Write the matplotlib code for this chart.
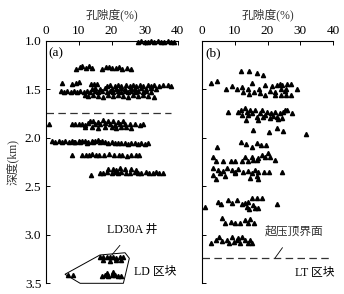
import matplotlib
matplotlib.use("Agg")
import matplotlib.pyplot as plt
from matplotlib.patches import Polygon

plt.rcParams["font.family"] = ["Liberation Serif", "Noto Sans CJK SC"]
plt.rcParams["axes.unicode_minus"] = False

# ---- panel (a): LD block, porosity (%) vs depth (km) ----
a_por = [
    # ~1.0 km
    28, 29, 30, 31, 32, 33, 34, 35, 36, 37, 38, 39,
    # ~1.28 km
    9.3, 10.5, 11.2, 12.2, 13.2, 14.2, 17.2, 18.2, 19.2, 20.2, 21.3, 22.3, 23.3, 24.6, 26,
    # ~1.43 km isolated
    5.1, 8.1, 9.2, 10.2, 13.7, 14.7, 15.7,
    # ~1.46 km
    18.5, 19.5, 21, 22, 23, 24.5, 25.5, 26.5, 27.5, 28.5, 29.5, 31, 32, 33, 34.5, 35.5, 37, 38,
    # ~1.49 km
    14, 15, 16.5, 18, 20, 21.5, 23, 24, 26, 27, 29, 30.5, 32, 33.5,
    # ~1.52 km
    4.6, 5.6, 6.6, 7.6, 8.6, 9.6, 10.6, 11.6, 12.6, 13.6, 15, 16, 17, 18.5, 19.5, 20.5,
    22, 23, 24, 25, 26, 27, 28, 29.5, 30.5, 32,
    # ~1.56 km
    12, 13, 14.5, 16, 17.5, 19, 20.5, 22, 23.5, 25, 26.5, 28, 29.5, 31, 33,
    # ~1.85 km
    1.1,
    13.5, 14.5, 16, 17.5, 19, 20.5, 22, 23.5,
    8, 9, 10, 11, 12, 13, 15, 16.5, 18, 19.5, 21, 22.5, 24, 25.5, 27, 28.5, 29.5,
    12, 14, 16, 18, 20, 21.5, 23, 24.5, 26,
    # ~2.05 km
    2, 3, 4, 5, 6, 7, 8, 9, 10, 11, 12, 13, 14, 15, 16, 17, 18, 19, 20, 21,
    22, 23, 24, 25, 26, 27, 28, 29, 30, 31,
    8.5, 10.5, 12.5, 14.5, 16.5,
    # ~2.18 km
    8.1, 11.2, 12.2, 13.2, 14.2, 15.2, 16.2, 17.7, 19.2, 20.8, 22.3, 23.3, 24.6, 25.8, 27.3, 28.3,
    # ~2.35 km
    13.7, 19, 20.5, 21.5, 22.5, 24, 26, 27.5,
    16.5, 17.5, 18.5, 20, 21, 22, 23, 24.5, 25.5, 27, 28, 29, 30.5, 31.5, 32.5, 33.5, 34.5, 35.5,
    # LD30A well
    16.5, 17.5, 18.5, 19.5, 20.5, 21.5, 22.5, 23.5, 17.5, 19.5, 21.5, 23,
    17, 18, 19, 20, 21, 22, 23, 18.5, 20.5,
    6.9, 8.2,
]
a_dep = [
    1.01, 1.005, 1.01, 1.015, 1.005, 1.01, 1.005, 1.015, 1.01, 1.005, 1.01, 1.015,
    1.285, 1.27, 1.26, 1.275, 1.26, 1.275, 1.29, 1.265, 1.27, 1.28, 1.275, 1.265, 1.29, 1.28, 1.285,
    1.43, 1.44, 1.43, 1.425, 1.44, 1.445, 1.44,
    1.46, 1.455, 1.465, 1.45, 1.46, 1.455, 1.465, 1.45, 1.46, 1.455, 1.465, 1.45, 1.46, 1.455,
    1.465, 1.45, 1.455, 1.46,
    1.49, 1.485, 1.495, 1.48, 1.49, 1.495, 1.48, 1.49, 1.485, 1.495, 1.48, 1.49, 1.485, 1.49,
    1.52, 1.525, 1.52, 1.525, 1.52, 1.525, 1.515, 1.525, 1.52, 1.53, 1.515, 1.525, 1.52, 1.53,
    1.515, 1.525, 1.52, 1.53, 1.515, 1.525, 1.52, 1.53, 1.515, 1.525, 1.52, 1.525,
    1.56, 1.57, 1.555, 1.565, 1.575, 1.56, 1.57, 1.555, 1.565, 1.575, 1.56, 1.57, 1.555, 1.565, 1.575,
    1.855,
    1.825, 1.82, 1.83, 1.815, 1.825, 1.82, 1.83, 1.825,
    1.86, 1.855, 1.86, 1.855, 1.865, 1.85, 1.855, 1.86, 1.85, 1.855, 1.865, 1.855, 1.86,
    1.855, 1.86, 1.865, 1.86,
    1.89, 1.885, 1.895, 1.89, 1.885, 1.895, 1.89, 1.885, 1.895,
    2.035, 2.04, 2.035, 2.04, 2.035, 2.04, 2.035, 2.04, 2.035, 2.03, 2.035, 2.04, 2.03, 2.035,
    2.025, 2.035, 2.04, 2.05, 2.045, 2.055, 2.05, 2.055, 2.05, 2.06, 2.055, 2.05, 2.06, 2.055,
    2.06, 2.055,
    2.045, 2.045, 2.05, 2.045, 2.04,
    2.18, 2.175, 2.175, 2.18, 2.17, 2.175, 2.18, 2.175, 2.17, 2.18, 2.18, 2.175, 2.185, 2.18,
    2.175, 2.18,
    2.38, 2.32, 2.315, 2.325, 2.31, 2.32, 2.315, 2.325,
    2.36, 2.365, 2.355, 2.36, 2.35, 2.36, 2.355, 2.365, 2.36, 2.355, 2.365, 2.36, 2.355, 2.365,
    2.36, 2.355, 2.36, 2.365,
    3.225, 3.23, 3.225, 3.23, 3.225, 3.235, 3.225, 3.23, 3.26, 3.265, 3.26, 3.255,
    3.42, 3.415, 3.42, 3.41, 3.415, 3.42, 3.42, 3.39, 3.385,
    3.415, 3.415,
]

# ---- panel (b): LT block ----
b_por = [
    11.8, 14.3, 16.7, 18.5, 2.7, 4.5,
    7.2, 9.1, 10.6, 12.1, 12.6, 14.1, 15.3, 14.3, 15.9, 17.4, 17.7, 19.2, 19.2, 20.7, 21.3,
    22.3, 22.8, 23.8, 24.1, 24.5, 25.3, 26.1, 25.8, 27.3, 28.9, 24.1, 25.8, 27.1, 22.3,
    8.0, 11.1, 12.1, 13.1, 13.6, 14.1, 13.3, 15.2, 16.2, 16.7, 17.2, 17.7, 18.2, 19.2, 19.7,
    20.7, 21.2, 22.3, 22.8, 23.8, 24.3, 24.8, 25.3, 26.1, 27.5, 15.6, 20.5, 22.8, 24.8, 31.9,
    14.6, 18.7, 21.7, 11.9, 23.3,
    11.9, 13.3, 15.2, 16.7, 18.0, 19.4, 4.5,
    3.4, 4.2, 6.5, 8.8, 10.1, 12.1, 13.1, 14.1, 15.2, 15.6, 16.7, 17.2, 18.2, 19.2, 20.2, 20.7, 22.3,
    3.4, 5.0, 6.5, 7.5, 9.1, 10.1, 11.1, 12.6, 14.1, 15.2, 16.2, 17.2, 19.0, 20.4, 24.3,
    3.4, 5.5, 7.0, 10.1, 14.6, 16.7, 17.2, 4.2,
    0.9, 5.0, 5.8, 7.8, 9.1, 10.6, 12.1, 13.1, 13.6, 14.1, 15.2, 15.6, 16.2, 17.2, 16.7, 18.2,
    14.4, 22.8,
    6.0, 7.0, 8.8, 10.1, 11.6, 13.1, 14.1, 14.6, 15.9,
    2.7, 4.2, 5.2, 6.0, 7.5, 8.2, 9.1, 9.8, 10.6, 11.6, 12.3, 13.1, 14.1, 14.6, 15.3, 11.1,
]
b_dep = [
    1.309, 1.306, 1.327, 1.35, 1.43, 1.41,
    1.498, 1.464, 1.498, 1.471, 1.526, 1.492, 1.43, 1.546, 1.526, 1.492, 1.539, 1.457, 1.56,
    1.519, 1.464, 1.526, 1.457, 1.443, 1.492, 1.457, 1.512, 1.443, 1.492, 1.443, 1.492,
    1.56, 1.56, 1.56, 1.56,
    1.735, 1.735, 1.763, 1.694, 1.729, 1.763, 1.814, 1.745, 1.711, 1.78, 1.814, 1.745, 1.711,
    1.763, 1.729, 1.797, 1.745, 1.729, 1.78, 1.745, 1.797, 1.729, 1.711, 1.711, 1.745,
    1.918, 1.935, 1.9, 1.925, 1.959,
    1.711, 1.787, 1.773, 1.711, 1.807,
    2.044, 2.062, 2.09, 2.055, 2.075, 2.069, 2.096,
    2.193, 2.24, 2.24, 2.24, 2.24, 2.24, 2.193, 2.24, 2.193, 2.227, 2.227, 2.209, 2.175, 2.193,
    2.158, 2.199, 2.227,
    2.312, 2.33, 2.337, 2.312, 2.33, 2.347, 2.323, 2.347, 2.337, 2.364, 2.33, 2.347, 2.347,
    2.347, 2.347,
    2.381, 2.364, 2.392, 2.364, 2.416, 2.392, 2.426, 2.426,
    2.708, 2.657, 2.68, 2.639, 2.673, 2.639, 2.68, 2.673, 2.708, 2.657, 2.622, 2.691, 2.725,
    2.725, 2.622, 2.622, 2.735, 2.68,
    2.828, 2.879, 2.863, 2.879, 2.879, 2.845, 2.879, 2.838, 2.879,
    3.079, 3.052, 3.018, 3.059, 3.052, 3.086, 3.024, 3.069, 3.052, 3.086, 3.018, 3.052, 3.086,
    3.052, 3.086, 3.034,
]

# outline of the LD30A well group
ld_outline_x = [5.9, 16.5, 24.1, 25.4, 23.6, 10.5]
ld_outline_y = [3.405, 3.206, 3.183, 3.24, 3.498, 3.498]

# top of overpressure (km)
op_top_a = 1.745
op_top_b = 3.24

x_ticks = [0, 10, 20, 30, 40]
y_ticks = [1.0, 1.5, 2.0, 2.5, 3.0, 3.5]

W, H = 344, 294
fig = plt.figure(figsize=(W / 100, H / 100), dpi=100)


def style_axis(ax, show_ylabels):
    ax.set_xlim(0, 40)
    ax.set_ylim(3.5, 1.0)
    ax.spines["right"].set_visible(False)
    ax.spines["bottom"].set_visible(False)
    for s in ("left", "top"):
        ax.spines[s].set_linewidth(0.8)
    ax.xaxis.tick_top()
    ax.xaxis.set_label_position("top")
    ax.set_xticks(x_ticks)
    ax.set_yticks(y_ticks)
    ax.tick_params(axis="x", direction="in", length=3, width=0.7, pad=3, labelsize=9.5)
    ax.tick_params(axis="y", direction="in", length=3, width=0.7, pad=3, labelsize=9.5,
                   labelleft=show_ylabels)
    if show_ylabels:
        ax.set_yticklabels([f"{v:.1f}" for v in y_ticks])
    ax.set_xlabel("孔隙度(%)", fontsize=8.5, labelpad=5, color="#333333")


ax_a = fig.add_axes([45.5 / W, 1 - 283.5 / H, 132 / W, 242.5 / H])
ax_b = fig.add_axes([202 / W, 1 - 283.5 / H, 131 / W, 242.5 / H])

style_axis(ax_a, True)
style_axis(ax_b, False)
ax_a.set_ylabel("深度(km)", fontsize=8.5, labelpad=4, color="#333333")

mk = dict(marker="^", color="black", ms=3.0, lw=0, clip_on=False)
ax_a.plot(a_por, a_dep, **mk)
ax_b.plot(b_por, b_dep, **mk)

dash = dict(color="#333333", lw=0.9, dashes=(6, 3.5))
ax_a.plot([0, 38], [op_top_a, op_top_a], **dash)
ax_b.plot([0, 39], [op_top_b, op_top_b], **dash)

ax_a.add_patch(Polygon(list(zip(ld_outline_x, ld_outline_y)), closed=True,
                       fill=False, ec="black", lw=0.7, clip_on=False))

ax_a.text(0.025, 0.975, "(a)", transform=ax_a.transAxes, ha="left", va="top", fontsize=9.5)
ax_b.text(0.025, 0.975, "(b)", transform=ax_b.transAxes, ha="left", va="top", fontsize=9.5)

ax_a.annotate("LD30A 井", xy=(20.1, 3.206), xytext=(26.4, 2.95), fontsize=8.5,
              ha="center", va="center",
              arrowprops=dict(arrowstyle="-", lw=0.6, color="black",
                              shrinkA=6, shrinkB=0))
ax_a.text(33.3, 3.38, "LD 区块", fontsize=8.5, ha="center", va="center")

ax_b.annotate("超压顶界面", xy=(22.3, 3.237), xytext=(28.0, 2.97), fontsize=8.5,
              ha="center", va="center", color="#333333",
              arrowprops=dict(arrowstyle="-", lw=0.6, color="black",
                              shrinkA=6, shrinkB=0))
ax_b.text(34.5, 3.39, "LT 区块", fontsize=8.5, ha="center", va="center")

fig.savefig("out.png", dpi=100)
